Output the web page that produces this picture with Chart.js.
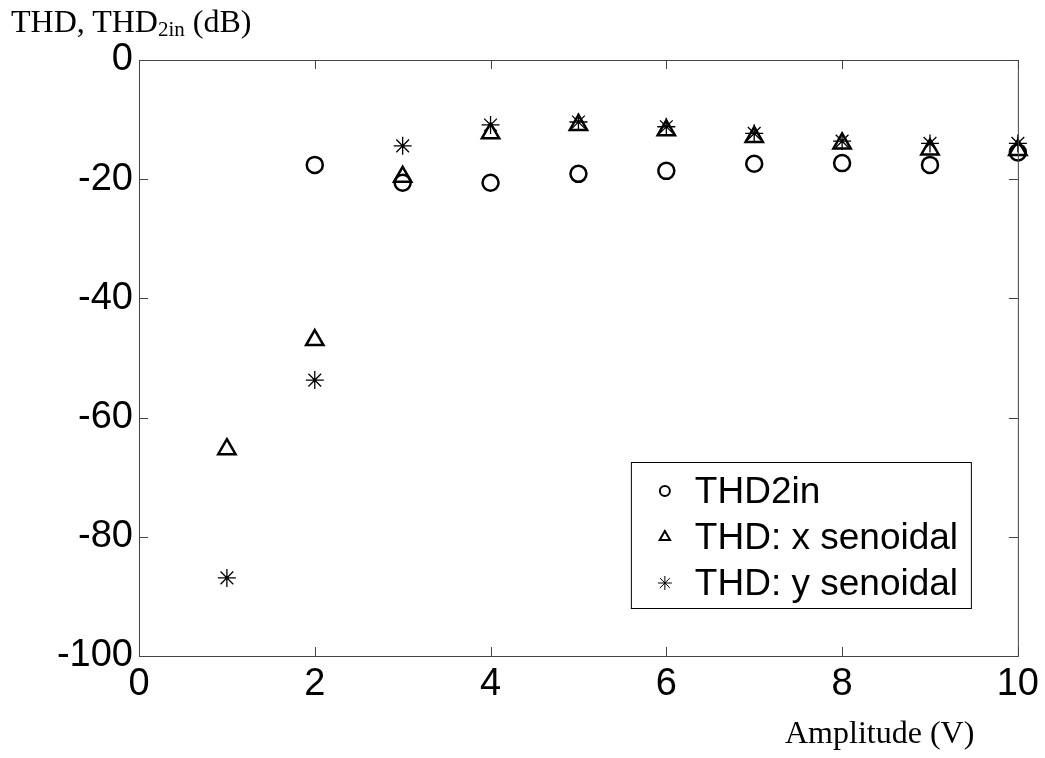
<!DOCTYPE html>
<html>
<head>
<meta charset="utf-8">
<script src="https://cdn.jsdelivr.net/npm/chart.js@4/dist/chart.umd.min.js"></script>
<style>
  body { margin: 0; background: #fff; }
  #wrap { position: relative; width: 1045px; height: 758px; }
  .ttl { position: absolute; font-family: "Times New Roman", "Liberation Serif", serif; font-size: 32px; color: #000; white-space: nowrap; }
  .ttl sub { font-size: 21px; vertical-align: -4px; line-height: 0; }
</style>
</head>
<body>
<div id="wrap">
  <canvas id="myChart" width="1045" height="758"></canvas>
  <div class="ttl" style="left:11px; top:3px;">THD, THD<sub>2in</sub> (dB)</div>
  <div class="ttl" style="left:785px; top:714px;">Amplitude (V)</div>
</div>
<script>
// amplitude (V)
var amplitude = [1, 2, 3, 4, 5, 6, 7, 8, 9, 10];
// THD2in (no value at 1 V)
var thd2in = [null, -17.6, -20.6, -20.6, -19.1, -18.6, -17.4, -17.3, -17.6, -15.5];
var thdX = [-65.3, -47.0, -19.6, -12.3, -10.9, -11.8, -12.9, -14.0, -15.0, -15.1];
var thdY = [-86.9, -53.7, -14.4, -10.9, -10.4, -11.2, -12.3, -13.6, -14.0, -14.0];

var xTicks = [0, 2, 4, 6, 8, 10];
var yTicks = [-100, -80, -60, -40, -20, 0];

var legendLabels = ['THD2in', 'THD: x senoidal', 'THD: y senoidal'];

function toPoints(vals) {
    var pts = [];
    for (var i = 0; i < amplitude.length; i++) {
        if (vals[i] !== null) pts.push({x: amplitude[i], y: vals[i]});
    }
    return pts;
}

var tickFont = {family: 'Arial, "Liberation Sans", sans-serif', size: 38};

// box + inward tick marks like matlab
var boxPlugin = {
    id: 'boxPlugin',
    afterDraw: function(chart) {
        var ctx = chart.ctx;
        var a = chart.chartArea;
        var xs = chart.scales.x, ys = chart.scales.y;
        ctx.save();
        ctx.strokeStyle = '#444';
        ctx.lineWidth = 1;
        ctx.strokeRect(a.left + 0.5, a.top + 0.5, a.right - a.left, a.bottom - a.top);
        ctx.beginPath();
        xTicks.forEach(function(v) {
            var px = Math.round(xs.getPixelForValue(v)) + 0.5;
            ctx.moveTo(px, a.bottom); ctx.lineTo(px, a.bottom - 9);
            ctx.moveTo(px, a.top); ctx.lineTo(px, a.top + 9);
        });
        yTicks.forEach(function(v) {
            var py = Math.round(ys.getPixelForValue(v)) + 0.5;
            ctx.moveTo(a.left, py); ctx.lineTo(a.left + 9, py);
            ctx.moveTo(a.right, py); ctx.lineTo(a.right - 9, py);
        });
        ctx.stroke();

        // legend box
        var bx = a.right - 387, by = a.bottom - 194, bw = 340, bh = 146;
        ctx.fillStyle = '#fff';
        ctx.fillRect(bx, by, bw, bh);
        ctx.strokeStyle = '#000';
        ctx.strokeRect(bx + 0.5, by + 0.5, bw, bh);
        ctx.font = '37px Arial, "Liberation Sans", sans-serif';
        ctx.textBaseline = 'middle';
        chart.data.datasets.forEach(function(ds, i) {
            var cy = by + 29 + i * 46;
            ctx.fillStyle = '#fff';
            ctx.strokeStyle = '#000';
            ctx.lineWidth = ds.pointStyle === 'star' ? 1 : 2;
            Chart.helpers.drawPoint(ctx, {
                pointStyle: ds.pointStyle,
                radius: ds.legendRadius,
                borderWidth: ctx.lineWidth,
                rotation: 0
            }, bx + 34, cy);
            ctx.fillStyle = '#000';
            ctx.fillText(legendLabels[i], bx + 64, cy + 2);
        });
        ctx.restore();
    }
};

var ctx = document.getElementById('myChart').getContext('2d');
var myChart = new Chart(ctx, {
    type: 'scatter',
    data: {
        datasets: [{
            label: legendLabels[0],
            data: toPoints(thd2in),
            pointStyle: 'circle',
            pointRadius: 8,
            legendRadius: 5,
            borderWidth: 2.5,
            borderColor: '#000',
            backgroundColor: 'rgba(0,0,0,0)',
            clip: false
        }, {
            label: legendLabels[1],
            data: toPoints(thdX),
            pointStyle: 'triangle',
            pointRadius: 10,
            legendRadius: 6,
            borderWidth: 2.5,
            borderColor: '#000',
            backgroundColor: 'rgba(0,0,0,0)',
            clip: false
        }, {
            label: legendLabels[2],
            data: toPoints(thdY),
            pointStyle: 'star',
            pointRadius: 9,
            legendRadius: 7,
            borderWidth: 1.3,
            borderColor: '#000',
            backgroundColor: 'rgba(0,0,0,0)',
            clip: false
        }]
    },
    options: {
        responsive: false,
        devicePixelRatio: 1,
        animation: false,
        layout: {padding: {left: 0, top: 60, right: 26, bottom: 0}},
        plugins: {legend: {display: false}, tooltip: {enabled: false}},
        scales: {
            x: {
                type: 'linear', min: 0, max: 10,
                afterFit: function(s) { s.height = 102; },
                afterBuildTicks: function(s) { s.ticks = xTicks.map(function(v) { return {value: v}; }); },
                ticks: {font: tickFont, color: '#000', padding: 6, maxRotation: 0, autoSkip: false},
                grid: {display: false, drawTicks: false},
                border: {display: false}
            },
            y: {
                type: 'linear', min: -100, max: 0,
                afterFit: function(s) { s.width = 139; },
                afterBuildTicks: function(s) { s.ticks = yTicks.map(function(v) { return {value: v}; }); },
                ticks: {font: tickFont, color: '#000', padding: 6, autoSkip: false},
                grid: {display: false, drawTicks: false},
                border: {display: false}
            }
        }
    },
    plugins: [boxPlugin]
});
</script>
</body>
</html>
